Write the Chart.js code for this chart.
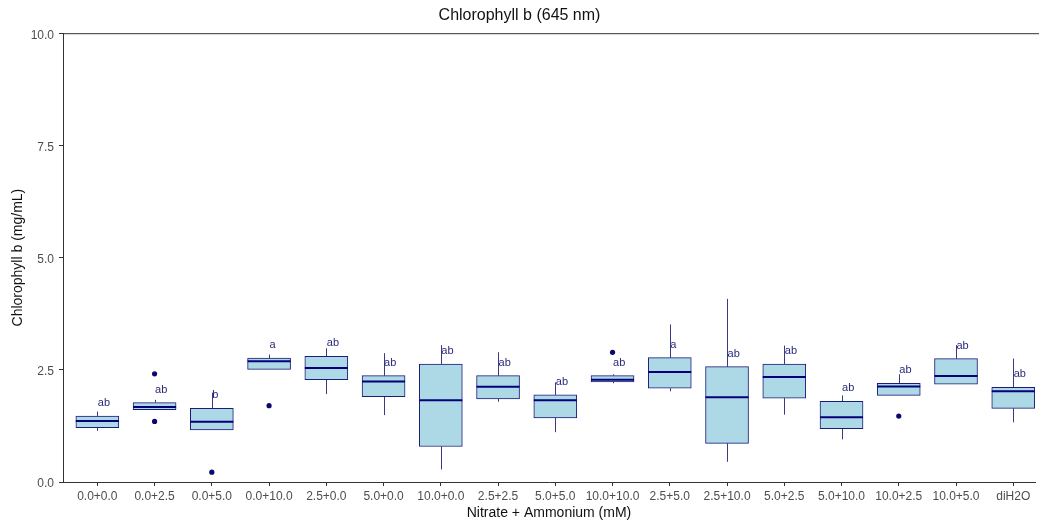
<!DOCTYPE html>
<html>
<head>
    <meta charset="utf-8" />
    <title>Chlorophyll b (645 nm)</title>
    <script src="https://cdn.jsdelivr.net/npm/chart.js@4.4.0/dist/chart.umd.min.js"></script>
    <style>
        html, body { margin: 0; padding: 0; background: #fff; }
        #wrap { width: 1039px; height: 522px; }
    </style>
</head>
<body>
<div id="wrap"><canvas id="chloroB" width="1039" height="522"></canvas></div>

<script>
    // treatments (nitrate + ammonium, mM)
    var treatments = ["0.0+0.0", "0.0+2.5", "0.0+5.0", "0.0+10.0", "2.5+0.0", "5.0+0.0", "10.0+0.0",
        "2.5+2.5", "5.0+5.0", "10.0+10.0", "2.5+5.0", "2.5+10.0", "5.0+2.5", "5.0+10.0",
        "10.0+2.5", "10.0+5.0", "diH2O"];

    // box stats, mg/mL
    var whiskerLow  = [1.14, 1.61, 1.16, 2.51, 1.96, 1.49, 0.28, 1.79, 1.11, 2.20, 2.02, 0.45, 1.50, 0.95, 1.93, 2.18, 1.33];
    var lowerQ      = [1.21, 1.61, 1.16, 2.51, 2.28, 1.90, 0.79, 1.85, 1.43, 2.23, 2.09, 0.86, 1.87, 1.19, 1.93, 2.18, 1.64];
    var medians     = [1.36, 1.67, 1.34, 2.69, 2.54, 2.24, 1.82, 2.12, 1.82, 2.28, 2.45, 1.89, 2.34, 1.44, 2.13, 2.36, 2.02];
    var upperQ      = [1.47, 1.77, 1.64, 2.76, 2.80, 2.37, 2.63, 2.37, 1.94, 2.37, 2.77, 2.57, 2.63, 1.80, 2.20, 2.75, 2.11];
    var whiskerHigh = [1.57, 1.83, 1.99, 2.84, 2.98, 2.87, 3.05, 2.89, 2.22, 2.40, 3.51, 4.08, 3.04, 1.93, 2.40, 3.05, 2.75];

    // outliers: treatment index + value
    var outlierGroup = [1, 1, 2, 3, 9, 14];
    var outlierValue = [2.41, 1.35, 0.22, 1.70, 2.89, 1.47];

    // Tukey letters
    var letters = ["ab", "ab", "b", "a", "ab", "ab", "ab", "ab", "ab", "ab", "a", "ab", "ab", "ab", "ab", "ab", "ab"];

    var yTicks = [0, 2.5, 5, 7.5, 10];

    var navy = "#1b1b78";
    var boxes = treatments.map(function (t, i) { return { x: i + 1, y: [lowerQ[i], upperQ[i]] }; });
    var outliers = outlierGroup.map(function (g, i) { return { x: g + 1, y: outlierValue[i] }; });

    // whiskers, medians, letters and the top frame line
    var boxExtras = {
        id: "boxExtras",
        beforeDatasetsDraw: function (chart) {
            var ctx = chart.ctx, xs = chart.scales.x, ys = chart.scales.y;
            ctx.save();
            ctx.strokeStyle = "#3a3a82";
            ctx.lineWidth = 1;
            for (var i = 0; i < treatments.length; i++) {
                var px = Math.round(xs.getPixelForValue(i + 1)) + 0.5;
                ctx.beginPath();
                ctx.moveTo(px, ys.getPixelForValue(upperQ[i]));
                ctx.lineTo(px, ys.getPixelForValue(whiskerHigh[i]));
                ctx.moveTo(px, ys.getPixelForValue(lowerQ[i]));
                ctx.lineTo(px, ys.getPixelForValue(whiskerLow[i]));
                ctx.stroke();
            }
            ctx.restore();
        },
        afterDatasetsDraw: function (chart) {
            var ctx = chart.ctx, xs = chart.scales.x, ys = chart.scales.y, area = chart.chartArea;
            var half = 21.5;
            ctx.save();
            ctx.strokeStyle = "#00007a";
            ctx.lineWidth = 2;
            for (var i = 0; i < treatments.length; i++) {
                var px = xs.getPixelForValue(i + 1);
                var my = ys.getPixelForValue(medians[i]);
                ctx.beginPath();
                ctx.moveTo(px - half, my);
                ctx.lineTo(px + half, my);
                ctx.stroke();
            }
            ctx.fillStyle = "#2a2a7c";
            ctx.font = "11px Arial, 'Liberation Sans', sans-serif";
            ctx.textAlign = "left";
            ctx.textBaseline = "middle";
            for (var j = 0; j < letters.length; j++) {
                ctx.fillText(letters[j], xs.getPixelForValue(j + 1) + 0.5, ys.getPixelForValue(upperQ[j]) - 13);
            }
            // top frame line
            ctx.strokeStyle = "#333333";
            ctx.lineWidth = 1;
            ctx.beginPath();
            ctx.moveTo(area.left, area.top + 0.5);
            ctx.lineTo(chart.width, area.top + 0.5);
            ctx.stroke();
            ctx.restore();
        }
    };

    var ctx = document.getElementById("chloroB").getContext("2d");
    var chart = new Chart(ctx, {
        type: "bar",
        data: {
            datasets: [
                {
                    type: "scatter",
                    data: outliers,
                    pointRadius: 2.6,
                    pointBackgroundColor: "#0a0a6e",
                    pointBorderWidth: 0,
                    order: 0
                },
                {
                    type: "bar",
                    data: boxes,
                    backgroundColor: "#add8e6",
                    borderColor: navy,
                    borderWidth: 1,
                    borderSkipped: false,
                    barThickness: 43,
                    order: 1
                }
            ]
        },
        options: {
            responsive: false,
            animation: false,
            layout: { padding: { left: 0, right: 0, top: 0, bottom: 0 } },
            plugins: {
                legend: { display: false },
                tooltip: { enabled: false },
                title: {
                    display: true,
                    text: "Chlorophyll b (645 nm)",
                    color: "#111",
                    font: { family: "Arial, 'Liberation Sans', sans-serif", size: 16, weight: "normal" },
                    padding: { top: 6, bottom: 8 }
                }
            },
            scales: {
                x: {
                    type: "linear",
                    offset: false,
                    min: 0.4,
                    max: 17.38,
                    afterBuildTicks: function (s) {
                        s.ticks = treatments.map(function (t, i) { return { value: i + 1 }; });
                    },
                    afterFit: function (s) { s.height = 40; },
                    ticks: {
                        autoSkip: false,
                        maxRotation: 0,
                        padding: 3,
                        color: "#4d4d4d",
                        font: { family: "Arial, 'Liberation Sans', sans-serif", size: 12 },
                        callback: function (v) { return treatments[v - 1]; }
                    },
                    grid: { offset: false, drawOnChartArea: false, drawTicks: true, tickLength: 4, color: "#333333" },
                    border: { display: true, color: "#333333" },
                    title: {
                        display: true,
                        text: "Nitrate + Ammonium (mM)",
                        color: "#111",
                        font: { family: "Arial, 'Liberation Sans', sans-serif", size: 14 },
                        padding: { top: 0, bottom: 0 }
                    }
                },
                y: {
                    min: 0,
                    max: 10,
                    afterBuildTicks: function (s) {
                        s.ticks = yTicks.map(function (v) { return { value: v }; });
                    },
                    afterFit: function (s) { s.width = 63; },
                    ticks: {
                        padding: 5,
                        labelOffset: 2,
                        color: "#4d4d4d",
                        font: { family: "Arial, 'Liberation Sans', sans-serif", size: 12 },
                        callback: function (v) { return v.toFixed(1); }
                    },
                    grid: { drawOnChartArea: false, drawTicks: true, tickLength: 4, color: "#333333" },
                    border: { display: true, color: "#333333" },
                    title: {
                        display: true,
                        text: "Chlorophyll b (mg/mL)",
                        color: "#111",
                        font: { family: "Arial, 'Liberation Sans', sans-serif", size: 14 },
                        padding: { top: 10, bottom: 0 }
                    }
                }
            }
        },
        plugins: [boxExtras]
    });
</script>
</body>
</html>
